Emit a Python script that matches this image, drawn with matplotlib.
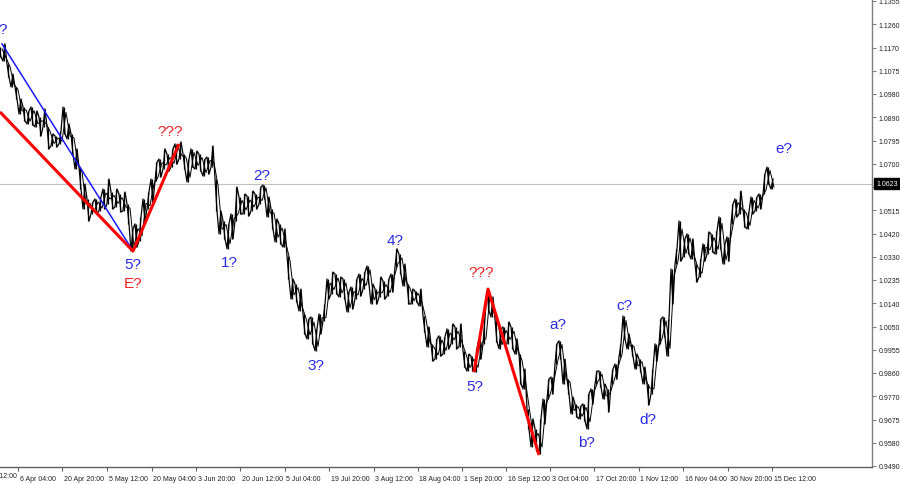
import matplotlib
matplotlib.use("Agg")
import matplotlib.pyplot as plt
import matplotlib.transforms as mtransforms
import numpy as np

# ---------------- data ----------------
# bar highs / lows, one sample every ~4 px of the original chart (H4 EURUSD)
bar_high = [
    1.1171, 1.1183, 1.1102, 1.1062, 1.1010, 1.0962, 1.0930, 1.0914, 1.0930, 1.0914,
    1.0890, 1.0922, 1.0850, 1.0822, 1.0814, 1.0834, 1.0930, 1.0862, 1.0822, 1.0762,
    1.0689, 1.0621, 1.0561, 1.0549, 1.0561, 1.0569, 1.0601, 1.0641, 1.0589, 1.0601,
    1.0581, 1.0589, 1.0541, 1.0441, 1.0461, 1.0489, 1.0561, 1.0589, 1.0641, 1.0709,
    1.0721, 1.0762, 1.0741, 1.0762, 1.0782, 1.0790, 1.0741, 1.0721, 1.0762, 1.0753,
    1.0741, 1.0721, 1.0729, 1.0774, 1.0641, 1.0513, 1.0473, 1.0461, 1.0501, 1.0609,
    1.0569, 1.0581, 1.0573, 1.0593, 1.0581, 1.0609, 1.0617, 1.0569, 1.0521, 1.0481,
    1.0461, 1.0441, 1.0332, 1.0240, 1.0220, 1.0200, 1.0100, 1.0080, 1.0088, 1.0040,
    1.0100, 1.0140, 1.0240, 1.0268, 1.0260, 1.0248, 1.0240, 1.0188, 1.0208, 1.0240,
    1.0260, 1.0268, 1.0292, 1.0220, 1.0200, 1.0248, 1.0232, 1.0240, 1.0260, 1.0361,
    1.0340, 1.0300, 1.0220, 1.0200, 1.0192, 1.0200, 1.0092, 1.0048, 0.9980, 1.0000,
    1.0012, 1.0008, 1.0040, 1.0060, 1.0048, 1.0060, 0.9952, 0.9939, 0.9931, 0.9960,
    1.0000, 1.0088, 1.0192, 1.0168, 1.0080, 1.0040, 1.0048, 1.0068, 1.0048, 1.0000,
    0.9939, 0.9879, 0.9719, 0.9679, 0.9639, 0.9679, 0.9759, 0.9839, 0.9847, 0.9980,
    0.9992, 0.9919, 0.9839, 0.9767, 0.9739, 0.9731, 0.9739, 0.9779, 0.9799, 0.9871,
    0.9871, 0.9819, 0.9799, 0.9879, 0.9899, 0.9980, 1.0092, 1.0020, 0.9980, 0.9939,
    0.9919, 0.9887, 0.9819, 0.9879, 0.9980, 1.0080, 1.0088, 1.0080, 1.0280, 1.0361,
    1.0473, 1.0401, 1.0421, 1.0401, 1.0300, 1.0320, 1.0381, 1.0429, 1.0421, 1.0433,
    1.0489, 1.0381, 1.0409, 1.0541, 1.0561, 1.0593, 1.0521, 1.0509, 1.0569, 1.0569,
    1.0581, 1.0661, 1.0689, 1.0641,
]
bar_low = [
    1.1130, 1.1114, 1.1050, 1.1010, 1.0962, 1.0902, 1.0874, 1.0862, 1.0858, 1.0850,
    1.0814, 1.0850, 1.0762, 1.0774, 1.0770, 1.0782, 1.0822, 1.0802, 1.0741, 1.0681,
    1.0601, 1.0521, 1.0473, 1.0501, 1.0501, 1.0513, 1.0521, 1.0541, 1.0521, 1.0529,
    1.0509, 1.0513, 1.0461, 1.0352, 1.0368, 1.0393, 1.0473, 1.0521, 1.0549, 1.0633,
    1.0649, 1.0681, 1.0673, 1.0689, 1.0701, 1.0721, 1.0681, 1.0629, 1.0689, 1.0681,
    1.0673, 1.0653, 1.0661, 1.0689, 1.0513, 1.0421, 1.0401, 1.0361, 1.0401, 1.0473,
    1.0501, 1.0501, 1.0493, 1.0513, 1.0521, 1.0541, 1.0561, 1.0489, 1.0441, 1.0389,
    1.0381, 1.0368, 1.0240, 1.0160, 1.0148, 1.0112, 1.0020, 1.0000, 0.9980, 0.9952,
    1.0020, 1.0072, 1.0160, 1.0180, 1.0180, 1.0168, 1.0160, 1.0108, 1.0120, 1.0160,
    1.0172, 1.0200, 1.0220, 1.0140, 1.0140, 1.0168, 1.0160, 1.0172, 1.0188, 1.0288,
    1.0260, 1.0212, 1.0140, 1.0140, 1.0148, 1.0132, 1.0028, 0.9968, 0.9911, 0.9919,
    0.9931, 0.9939, 0.9960, 0.9980, 0.9960, 0.9968, 0.9887, 0.9871, 0.9871, 0.9867,
    0.9919, 0.9980, 1.0112, 1.0088, 0.9988, 0.9960, 0.9980, 0.9980, 0.9960, 0.9939,
    0.9819, 0.9799, 0.9639, 0.9567, 0.9550, 0.9538, 0.9659, 0.9759, 0.9779, 0.9899,
    0.9919, 0.9819, 0.9779, 0.9699, 0.9687, 0.9679, 0.9671, 0.9639, 0.9739, 0.9819,
    0.9807, 0.9759, 0.9707, 0.9819, 0.9839, 0.9927, 1.0000, 0.9960, 0.9931, 0.9879,
    0.9867, 0.9819, 0.9735, 0.9779, 0.9911, 0.9980, 1.0008, 0.9931, 1.0140, 1.0300,
    1.0312, 1.0328, 1.0340, 1.0320, 1.0228, 1.0248, 1.0312, 1.0340, 1.0348, 1.0340,
    1.0361, 1.0300, 1.0312, 1.0461, 1.0489, 1.0501, 1.0449, 1.0441, 1.0501, 1.0513,
    1.0521, 1.0581, 1.0621, 1.0601,
]
current_price = 1.0623

# price scale labels (evenly spaced on the right axis)
price_min, price_max = 0.9490, 1.1355
price_labels = ["0.9490", "0.9580", "0.9675", "0.9770", "0.9860", "0.9955",
                "1.0050", "1.0140", "1.0235", "1.0330", "1.0420", "1.0515",
                "1.0610", "1.0700", "1.0795", "1.0890", "1.0980", "1.1075",
                "1.1170", "1.1260", "1.1355"]

# time axis labels and their positions (in sample units)
date_labels = ["22 Mar 12:00", "6 Apr 04:00", "20 Apr 20:00", "5 May 12:00",
               "20 May 04:00", "3 Jun 20:00", "20 Jun 12:00", "5 Jul 04:00",
               "19 Jul 20:00", "3 Aug 12:00", "18 Aug 04:00", "1 Sep 20:00",
               "16 Sep 12:00", "3 Oct 04:00", "17 Oct 20:00", "1 Nov 12:00",
               "16 Nov 04:00", "30 Nov 20:00", "15 Dec 12:00"]
date_pos = [-6.6, 4.5, 15.6, 26.8, 37.9, 49.0, 60.1, 71.2, 82.3, 93.4, 104.4,
            115.5, 126.6, 137.6, 148.6, 159.7, 170.8, 182.0, 193.1]

# wave lines: (sample position, price)
blue_wave_x = [0.5, 33.25]
blue_wave_y = [1.1183, 1.0352]
red_wave1_x = [0.0, 33.25, 44.75]
red_wave1_y = [1.0910, 1.0352, 1.0782]
red_wave2_x = [118.5, 122.0, 134.75]
red_wave2_y = [0.9867, 1.0200, 0.9534]

# wave labels
wave_text = ["?", "5?", "1?", "2?", "3?", "4?", "5?", "a?", "b?", "c?", "d?", "e?"]
wave_x = [0.75, 33.25, 57.25, 65.5, 79.0, 98.75, 118.75, 139.5, 146.5, 156.0, 162.0, 196.0]
wave_y = [1.1243, 1.0300, 1.0308, 1.0657, 0.9895, 1.0397, 0.9811, 1.0060, 0.9587,
          1.0136, 0.9679, 1.0766]
red_text = ["???", "E?", "???"]
red_x = [42.5, 33.25, 120.25]
red_y = [1.0834, 1.0224, 1.0268]

# ---------------- figure ----------------
W, H = 900, 485
fig = plt.figure(figsize=(W / 100, H / 100), dpi=100)
fig.patch.set_facecolor("white")
ax = fig.add_axes([0, 17 / H, 872 / W, 468 / H])
ax.set_facecolor("white")

n = len(bar_high)
xs = np.arange(n)
hi = np.array(bar_high)
lo = np.array(bar_low)

# bars: thin high-low strokes joined by a dense zigzag
ax.vlines(xs, lo, hi, color="black", lw=0.9, zorder=3)
zx, zy = [], []
for i in range(n):
    zx += [i - 0.25, i + 0.25]
    zy += [hi[i], lo[i]] if i % 2 == 0 else [lo[i], hi[i]]
ax.plot(zx, zy, color="black", lw=0.9, zorder=3)
ax.plot(xs + 0.5, (hi + lo) / 2 + np.where(xs % 2 == 0, 1, -1) * (hi - lo) * 0.3,
        color="black", lw=0.7, zorder=3)

# current price line
ax.axhline(current_price, color="#c0c0c0", lw=0.8, zorder=1)

# wave lines
ax.plot(blue_wave_x, blue_wave_y, color="#1a1aff", lw=1.1, zorder=4)
ax.plot(red_wave1_x, red_wave1_y, color="#ff0000", lw=2.2, zorder=4, solid_capstyle="butt")
ax.plot(red_wave2_x, red_wave2_y, color="#ff0000", lw=2.2, zorder=4, solid_capstyle="butt")

lab_font = "Liberation Sans"
for t, x, y in zip(wave_text, wave_x, wave_y):
    ax.text(x, y, t, color="#2a2ae6", fontsize=11, family=lab_font,
            ha="center", va="center", zorder=5)
for t, x, y in zip(red_text, red_x, red_y):
    ax.text(x, y, t, color="#f02020", fontsize=11, family=lab_font,
            ha="center", va="center", zorder=5)

# axes limits
px_per_price = 465 / (price_max - price_min)
ax.set_ylim(price_min - 1 / px_per_price, price_max + 2 / px_per_price)
ax.set_xlim(0, 218)

# spines
for s in ["top", "left"]:
    ax.spines[s].set_visible(False)
ax.spines["right"].set_color("#808080")
ax.spines["bottom"].set_color("#606060")
ax.spines["right"].set_linewidth(1.0)
ax.spines["bottom"].set_linewidth(1.0)

# y ticks (right)
ax.yaxis.tick_right()
ax.set_yticks(np.linspace(price_min, price_max, len(price_labels)))
ax.set_yticklabels(price_labels)
ax.tick_params(axis="y", direction="out", length=3, width=0.8, color="#808080",
               labelsize=5, pad=2, labelcolor="#202020")
for lbl in ax.get_yticklabels():
    lbl.set_family(lab_font)

# x ticks (bottom) - left aligned labels
vis = [(p, l) for p, l in zip(date_pos, date_labels) if p >= 0]
ax.set_xticks([p for p, _ in vis])
ax.set_xticklabels([l for _, l in vis])
ax.tick_params(axis="x", direction="out", length=3, width=0.8, color="#606060",
               labelsize=5, pad=3, labelcolor="#202020")
offset = mtransforms.ScaledTranslation(1.5 / 100, 0, fig.dpi_scale_trans)
for lbl in ax.get_xticklabels():
    lbl.set_horizontalalignment("left")
    lbl.set_family(lab_font)
    lbl.set_transform(lbl.get_transform() + offset)

# partially visible first label
trans = mtransforms.blended_transform_factory(ax.transData, ax.transAxes)
for p, l in zip(date_pos, date_labels):
    if p < 0:
        ax.text(p + 0.4, -0.0105, l, transform=trans, fontsize=5, family=lab_font,
                ha="left", va="top", color="#202020", clip_on=False)

# current price box on the right scale
ax.annotate(f"{current_price:.4f}", xy=(1.0, current_price),
            xycoords=("axes fraction", "data"), xytext=(3, 0),
            textcoords="offset points", fontsize=5, family=lab_font,
            color="white", va="center", ha="left", zorder=10,
            bbox=dict(boxstyle="square,pad=0.25", fc="black", ec="black"),
            annotation_clip=False)

fig.savefig("out.png", dpi=100, facecolor="white")
